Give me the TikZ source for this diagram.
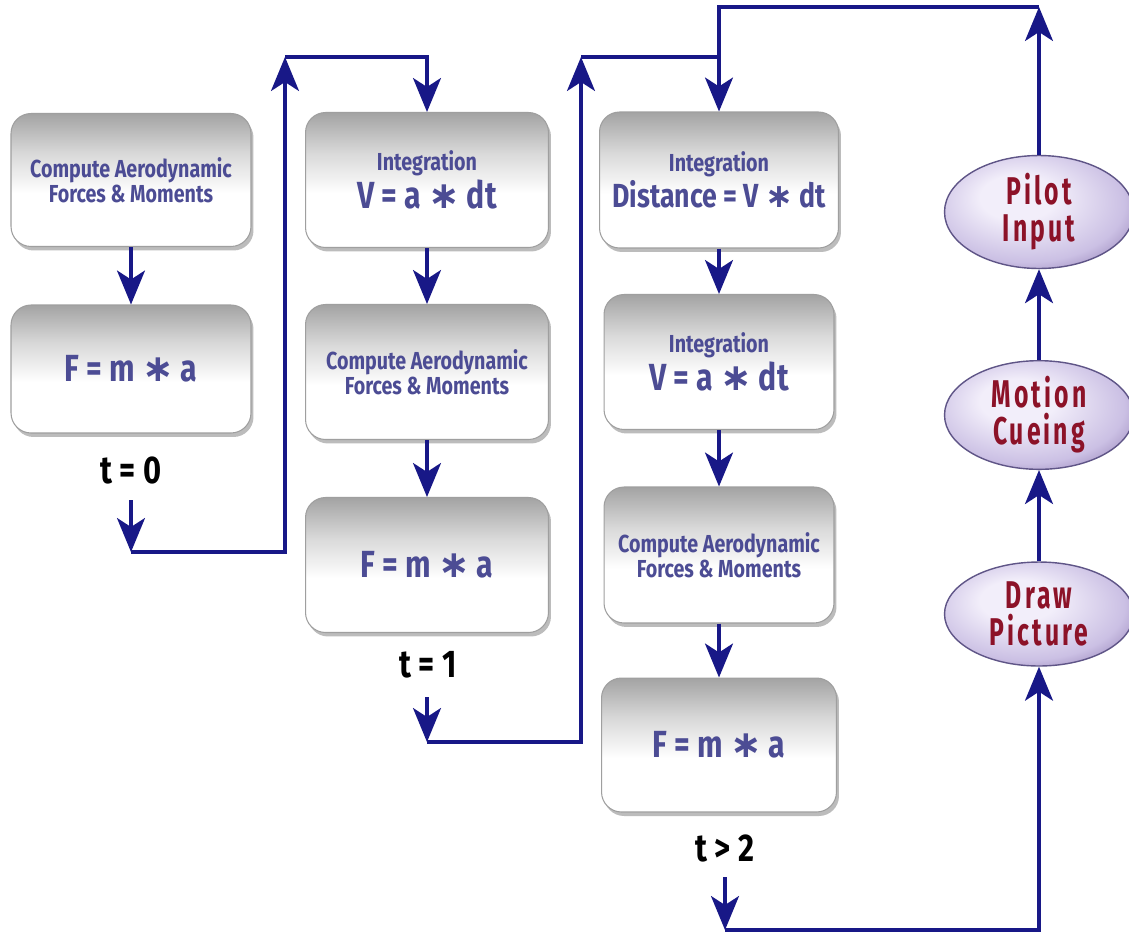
\documentclass[tikz,border=0pt]{standalone}
\usepackage{fontspec}
\setmainfont{Fira Sans}[FakeStretch=0.8]
\newfontfamily\redfont{Fira Sans}[FakeStretch=0.64,LetterSpace=8]
\newfontfamily\djv{DejaVu Sans}
\usetikzlibrary{arrows.meta,shapes.geometric,shadows}
\definecolor{arrowc}{RGB}{24,24,135}
\definecolor{boxtxt}{RGB}{76,76,148}
\definecolor{redtxt}{RGB}{140,18,40}
\definecolor{ellb}{RGB}{95,85,135}
\definecolor{elin}{RGB}{242,238,250}
\definecolor{elmid}{RGB}{203,192,228}
\definecolor{elout}{RGB}{140,120,176}
\pgfdeclareverticalshading{boxshade}{100bp}{color(0bp)=(white); color(25bp)=(white); color(45bp)=(white); color(60bp)=(gray!30); color(70bp)=(gray!58); color(75bp)=(gray!72); color(100bp)=(gray!72)}
\pgfdeclareradialshading{ellshade}{\pgfpoint{-7bp}{8bp}}{color(0bp)=(elin); color(10bp)=(elin); color(26bp)=(elmid); color(36bp)=(elout); color(50bp)=(elout)}
\newcommand{\st}{{\djv\bfseries ∗}}
\tikzset{
 box/.style={rounded corners=0.4cm, draw=gray!75, line width=0.6pt, shading=boxshade,
   drop shadow={shadow xshift=0.05cm,shadow yshift=-0.08cm,fill=gray!65,opacity=0.8},
   align=center, inner sep=0pt, text=boxtxt, font=\bfseries},
 ell/.style={ellipse, draw=ellb, line width=0.8pt, shading=ellshade, align=center, inner sep=0pt,
   text=redtxt, font=\redfont\bfseries\fontsize{22}{21}\selectfont, minimum width=3.78cm},
 arr/.style={draw=arrowc, line width=1.8pt, -{Stealth[length=0.68cm,width=0.56cm,inset=0.18cm]}},
 ln/.style={draw=arrowc, line width=1.8pt},
 tlab/.style={font=\bfseries\fontsize{22}{24}\selectfont, text=black},
}
\newcommand{\smt}{\fontsize{14}{17}\selectfont}
\newcommand{\bgt}{\fontsize{21.5}{24}\selectfont}
\newcommand{\mdt}{\fontsize{19}{22}\selectfont}
\begin{document}
\begin{tikzpicture}[x=0.02cm,y=-0.02cm]
\useasboundingbox (0,0) rectangle (1129,934);
\fill[white] (0,0) rectangle (1129,934);
% column 1
\node[box, minimum width=4.8cm, minimum height=2.66cm] (A1) at (131,180) {\smt Compute Aerodynamic\\\smt Forces \& Moments};
\node[box, minimum width=4.8cm, minimum height=2.56cm] (A2) at (131,369) {\bgt F = m \st{} a};
\node[tlab] (t0) at (131,470) {t = 0};
% column 2
\node[box, minimum width=4.86cm, minimum height=2.7cm] (B1) at (427,180) {\smt Integration\\[1pt]\bgt V = a \st{} dt};
\node[box, minimum width=4.86cm, minimum height=2.7cm] (B2) at (427,372) {\smt Compute Aerodynamic\\\smt Forces \& Moments};
\node[box, minimum width=4.86cm, minimum height=2.7cm] (B3) at (427,565) {\bgt F = m \st{} a};
\node[tlab] (t1) at (428,665) {t = 1};
% column 3
\node[box, minimum width=4.78cm, minimum height=2.72cm] (C1) at (719,180) {\smt Integration\\[1pt]\mdt Distance = V \st{} dt};
\node[box, minimum width=4.6cm, minimum height=2.7cm] (C2) at (719,362) {\smt Integration\\[1pt]\bgt V = a \st{} dt};
\node[box, minimum width=4.6cm, minimum height=2.72cm] (C3) at (719,555) {\smt Compute Aerodynamic\\\smt Forces \& Moments};
\node[box, minimum width=4.7cm, minimum height=2.68cm] (C4) at (719,745) {\bgt F = m \st{} a};
\node[tlab] (t2) at (725,848) {t > 2};
% ellipses
\node[ell, minimum height=2.26cm] (P) at (1039,212) {Pilot\\Input};
\node[ell, minimum height=2.14cm] (M) at (1039,415) {Motion\\Cueing};
\node[ell, minimum height=2.08cm] (D) at (1039,614) {Draw\\Picture};
% coordinates
\coordinate (t0a) at (131,500);
\coordinate (t0b) at (131,552);
\coordinate (k1) at (285,552);
\coordinate (k2) at (285,57);
\coordinate (t1a) at (427,697);
\coordinate (t1b) at (427,742);
\coordinate (k3) at (581,742);
\coordinate (k4) at (581,57);
\coordinate (k5) at (719,7);
\coordinate (k6) at (1039,7);
\coordinate (t2a) at (725,877);
\coordinate (t2b) at (725,930);
\coordinate (k7) at (1039,930);
% connectors
\draw[arr] (A1.south) -- (A2.north);
\draw[arr] (t0a) -- (t0b);
\draw[arr] (t0b) -- (k1) -- (k2);
\draw[arr] (k2) -- (k2 -| B1.north) -- (B1.north);
\draw[arr] (B1.south) -- (B2.north);
\draw[arr] (B2.south) -- (B3.north);
\draw[arr] (t1a) -- (t1b);
\draw[arr] (t1b) -- (k3) -- (k4);
\draw[arr] (k4) -- (k4 -| C1.north) -- (C1.north);
\draw[arr] (C1.south) -- (C2.north);
\draw[arr] (C2.south) -- (C3.north);
\draw[arr] (C3.south) -- (C4.north);
\draw[arr] (t2a) -- (t2b);
\draw[arr] (t2b) -- (k7) -- (D.south);
\draw[arr] (D.north) -- (M.south);
\draw[arr] (M.north) -- (P.south);
\draw[arr] (P.north) -- (k6);
\draw[ln] (k6) -- (k5) -- (k4 -| C1.north);
\end{tikzpicture}
\end{document}
